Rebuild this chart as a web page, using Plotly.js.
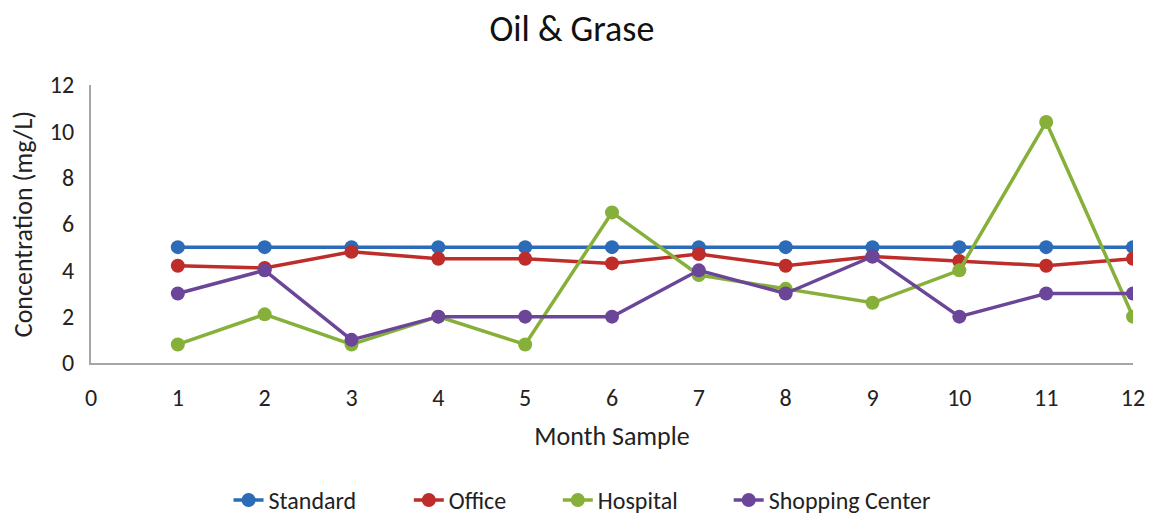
<!DOCTYPE html>
<html>
<head>
<meta charset="utf-8">
<script src="https://cdn.plot.ly/plotly-3.0.1.min.js"></script>
<style>
  html, body { margin: 0; padding: 0; background: #fff; }
  #chart { width: 1153px; height: 518px; }
</style>
</head>
<body>
<div id="chart"></div>
<script>
// Monthly oil & grease concentration (mg/L) at three sites versus the standard
const months = [1, 2, 3, 4, 5, 6, 7, 8, 9, 10, 11, 12];
const standard = [5, 5, 5, 5, 5, 5, 5, 5, 5, 5, 5, 5];
const office = [4.2, 4.1, 4.8, 4.5, 4.5, 4.3, 4.7, 4.2, 4.6, 4.4, 4.2, 4.5];
const hospital = [0.8, 2.1, 0.8, 2.0, 0.8, 6.5, 3.8, 3.2, 2.6, 4.0, 10.4, 2.0];
const shopping = [3, 4, 1, 2, 2, 2, 4, 3, 4.6, 2, 3, 3];
const xTicks = [0, 1, 2, 3, 4, 5, 6, 7, 8, 9, 10, 11, 12];

const FONT = "Carlito, 'Liberation Sans Narrow', 'Open Sans', sans-serif";

function series(name, y, color, legendId) {
  return {
    x: months, y: y, name: name, type: 'scatter', mode: 'lines+markers',
    line: { color: color, width: 3.5 },
    marker: { color: color, size: 14 },
    legend: legendId
  };
}

const data = [
  series('Standard', standard, '#2B6BB7', 'legend'),
  series('Office', office, '#BE2D2A', 'legend2'),
  series('Hospital', hospital, '#86B03A', 'legend3'),
  series('Shopping Center', shopping, '#6A4598', 'legend4')
];

// one legend box per series so the entries spread along the bottom row
function legendAt(xPaper) {
  return {
    orientation: 'h', x: xPaper, xanchor: 'left', xref: 'paper',
    y: 0.034, yref: 'container', yanchor: 'middle',
    font: { size: 24 }, bgcolor: 'rgba(0,0,0,0)'
  };
}

const layout = {
  width: 1153, height: 518,
  margin: { l: 91, r: 20, t: 85, b: 155 },
  paper_bgcolor: '#fff', plot_bgcolor: '#fff',
  font: { family: FONT, size: 24, color: '#222' },
  title: { text: 'Oil &amp; Grase', x: 0.496, xanchor: 'center', y: 0.945, yanchor: 'middle',
           font: { family: FONT, size: 36, color: '#111' } },
  xaxis: {
    range: [0, 12], tickvals: xTicks, ticktext: xTicks.map(String),
    showgrid: false, zeroline: false, showline: true, linecolor: '#A6A6A6', linewidth: 2,
    ticks: 'outside', ticklen: 12, tickcolor: 'rgba(0,0,0,0)', tickfont: { size: 24 },
    title: { text: 'Month Sample', font: { size: 26 }, standoff: 16 }
  },
  yaxis: {
    range: [0, 12], dtick: 2, tick0: 0,
    showgrid: false, zeroline: false, showline: true, linecolor: '#A6A6A6', linewidth: 2,
    ticks: 'outside', ticklen: 10, tickcolor: 'rgba(0,0,0,0)', tickfont: { size: 24 },
    title: { text: 'Concentration (mg/L)', font: { size: 26 }, standoff: 10 }
  },
  legend: legendAt(0.132),
  legend2: legendAt(0.305),
  legend3: legendAt(0.448),
  legend4: legendAt(0.612),
  showlegend: true
};

Plotly.newPlot('chart', data, layout, { displayModeBar: false, staticPlot: true });
</script>
</body>
</html>
